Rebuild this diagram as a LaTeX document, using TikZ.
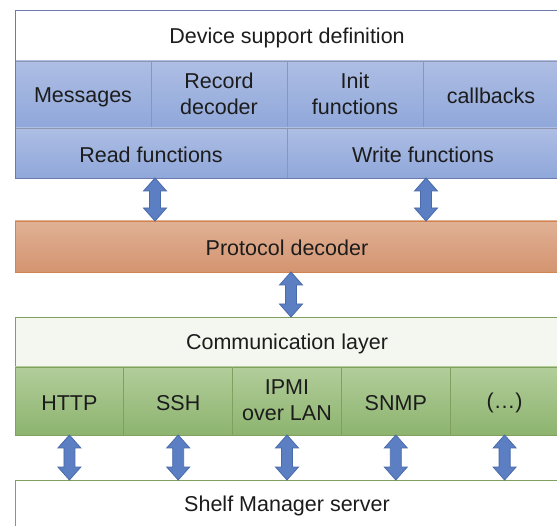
\documentclass[tikz,border=0pt]{standalone}
\usepackage{fontspec}
\setmainfont{Liberation Sans}
\usetikzlibrary{calc}

\definecolor{txt}{HTML}{1C1C1C}
\definecolor{blueframe}{HTML}{6C7AAE}
\definecolor{bluegrid}{HTML}{8E96AE}
\definecolor{bluetop}{HTML}{AEBEE4}
\definecolor{bluebot}{HTML}{8FA7DA}
\definecolor{orangeframe}{HTML}{D2834E}
\definecolor{orangetop}{HTML}{E0B195}
\definecolor{orangebot}{HTML}{D49470}
\definecolor{greenframe}{HTML}{7FA05E}
\definecolor{greentop}{HTML}{B2CD9A}
\definecolor{greenbot}{HTML}{8DB46F}
\definecolor{commfill}{HTML}{F4F7F0}
\definecolor{arrowfill}{HTML}{5C7FC4}
\definecolor{arrowline}{HTML}{4A6AAA}

\tikzset{
	updown/.style={fill=arrowfill, draw=arrowline, line width=0.8pt, line join=miter},
}

% double block arrow from top point #1 down to the height of #2
\newcommand{\biarrow}[2]{%
	\draw[updown] let \p1=(#1), \p2=(#2) in
	(\x1,\y1) -- (\x1+11.5pt,\y1-13pt) -- (\x1+5.5pt,\y1-13pt)
	-- (\x1+5.5pt,\y2+13pt) -- (\x1+11.5pt,\y2+13pt) -- (\x1,\y2)
	-- (\x1-11.5pt,\y2+13pt) -- (\x1-5.5pt,\y2+13pt)
	-- (\x1-5.5pt,\y1-13pt) -- (\x1-11.5pt,\y1-13pt) -- cycle;}

\begin{document}
\begin{tikzpicture}[x=1pt,y=-1pt,
	every node/.style={inner sep=0pt, outer sep=0pt, anchor=north west,
		align=center, text=txt, font=\fontsize{21.5}{26}\selectfont,
		execute at begin node=\rule{0pt}{20pt},
		execute at end node=\rule[-1.6pt]{0pt}{1.6pt}},
	whitebox/.style={draw=#1, fill=white, line width=0.9pt},
	bluecell/.style={draw=bluegrid, top color=bluetop, bottom color=bluebot, line width=0.8pt},
	greencell/.style={draw=greenframe, top color=greentop, bottom color=greenbot, line width=0.8pt}]
	\clip (0,0) rectangle (557,526);
	
	% device support
	\node[whitebox=blueframe, minimum width=544, minimum height=51] (dsd) at (15,10) {Device support definition};
	\foreach \name/\txt [count=\i from 0] in {msg/Messages, rec/Record\\decoder, ini/Init\\functions, cbk/callbacks}{
		\node[bluecell, minimum width=136, minimum height=67] (\name) at (15+136*\i,61) {\txt};
	}
	\node[bluecell, minimum width=272, minimum height=50] (rdf) at (15,128) {Read functions};
	\node[bluecell, minimum width=272, minimum height=50] (wrf) at (287,128) {Write functions};
	\draw[blueframe, line width=0.9pt] (dsd.north west) rectangle (wrf.south east);
	
	% protocol
	\node[draw=orangeframe, top color=orangetop, bottom color=orangebot, line width=0.9pt,
		minimum width=544, minimum height=51] (proto) at (15,221) {Protocol decoder};
	
	% communication
	\node[draw=greenframe, fill=commfill, line width=0.9pt, minimum width=544, minimum height=50] (comm) at (15,317) {Communication layer};
	\foreach \name/\txt [count=\i from 0] in {http/HTTP, ssh/SSH, ipmi/IPMI\\over LAN, snmp/SNMP, etc/(…)}{
		\node[greencell, minimum width=108.8, minimum height=68] (\name) at (15+108.8*\i,367) {\txt};
	}
	\node[whitebox=greenframe, minimum width=544, minimum height=60] (shelf) at (15,480) {};
	\node[anchor=center] (shelftxt) at (287,504) {Shelf Manager server};
	
	% arrows
	\biarrow{[xshift=4pt]rdf.south}{proto.north}
	\biarrow{[xshift=3pt]wrf.south}{proto.north}
	\biarrow{[xshift=4pt]proto.south}{comm.north}
	\foreach \c in {http,ssh,ipmi,snmp,etc}{
		\biarrow{\c.south}{shelf.north}
	}
\end{tikzpicture}
\end{document}
